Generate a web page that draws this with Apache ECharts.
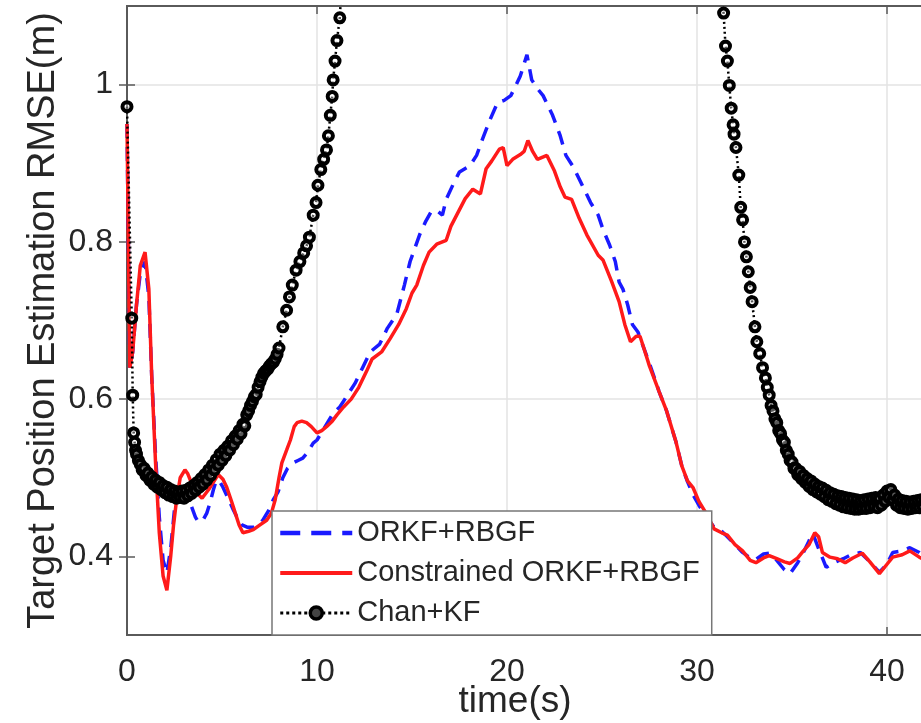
<!DOCTYPE html>
<html>
<head>
<meta charset="utf-8">
<script src="https://cdn.jsdelivr.net/npm/echarts@6.0.0/dist/echarts.min.js"></script>
<style>
  html, body { margin: 0; padding: 0; background: #fff; }
  #chart { width: 921px; height: 723px; }
</style>
</head>
<body>
<div id="chart"></div>
<script>
// time (s) and RMSE (m)
var orkfT = [0, 0.15, 0.3, 0.5, 0.7, 0.95, 1.15, 1.3, 1.5, 1.7, 1.9, 2.1, 2.3, 2.5, 2.75, 2.95, 3.2, 3.4, 3.6, 3.75, 4.0, 4.2, 4.37, 4.55, 4.7, 4.9, 5.05, 5.3, 5.6, 5.85, 6.05, 6.35, 6.65, 6.9, 7.15, 7.45, 7.7, 7.95, 8.2, 8.45, 8.75, 9.0, 9.25, 9.5, 9.8, 10.0, 10.3, 10.6, 10.85, 11.2, 11.6, 12.0, 12.4, 12.8, 13.3, 13.7, 14.2, 14.6, 14.9, 15.4, 15.7, 16.0, 16.3, 16.6, 16.8, 17.2, 17.5, 18.05, 18.4, 18.7, 19.1, 19.5, 19.85, 20.2, 20.45, 20.7, 21.05, 21.3, 21.6, 21.9, 22.4, 22.8, 23.1, 23.5, 23.8, 24.4, 24.8, 25.05, 25.4, 25.7, 25.9, 26.1, 26.35, 26.6, 26.9, 27.2, 27.5, 28.0, 28.4, 28.9, 29.2, 29.5, 29.8, 30.1, 30.5, 30.9, 31.3, 31.6, 32.0, 32.4, 32.8, 33.1, 33.5, 33.8, 34.2, 34.6, 34.9, 35.3, 35.6, 35.9, 36.1, 36.4, 36.8, 37.2, 37.7, 38.1, 38.6, 39.1, 39.6, 40.0, 40.3, 40.8, 41.2, 41.7, 42.0];
var orkfV = [0.95, 0.64, 0.66, 0.72, 0.76, 0.775, 0.73, 0.63, 0.53, 0.45, 0.395, 0.379, 0.41, 0.46, 0.49, 0.493, 0.48, 0.463, 0.45, 0.444, 0.446, 0.455, 0.468, 0.485, 0.497, 0.494, 0.488, 0.475, 0.459, 0.447, 0.44, 0.437, 0.437, 0.44, 0.446, 0.458, 0.472, 0.482, 0.5, 0.512, 0.519, 0.522, 0.525, 0.532, 0.544, 0.548, 0.56, 0.572, 0.582, 0.59, 0.605, 0.62, 0.64, 0.66, 0.67, 0.69, 0.708, 0.745, 0.775, 0.809, 0.825, 0.838, 0.84, 0.834, 0.854, 0.875, 0.889, 0.897, 0.91, 0.93, 0.955, 0.977, 0.98, 0.986, 0.998, 1.011, 1.038, 1.006, 0.995, 0.986, 0.961, 0.935, 0.91, 0.895, 0.88, 0.85, 0.834, 0.816, 0.796, 0.775, 0.749, 0.74, 0.72, 0.695, 0.685, 0.665, 0.645, 0.61, 0.585, 0.545, 0.515, 0.495, 0.478, 0.465, 0.45, 0.437, 0.432, 0.425, 0.415, 0.405, 0.398, 0.396, 0.403, 0.404, 0.395, 0.383, 0.378, 0.392, 0.405, 0.42, 0.429, 0.41, 0.386, 0.392, 0.397, 0.402, 0.405, 0.393, 0.38, 0.39, 0.405, 0.407, 0.411, 0.405, 0.4];

var consT = [0, 0.15, 0.3, 0.5, 0.7, 0.95, 1.15, 1.3, 1.5, 1.7, 1.9, 2.1, 2.3, 2.45, 2.6, 2.8, 3.05, 3.2, 3.4, 3.7, 3.95, 4.3, 4.8, 5.05, 5.25, 5.5, 5.7, 5.9, 6.1, 6.4, 6.65, 7.0, 7.35, 7.6, 7.8, 8.0, 8.15, 8.4, 8.6, 8.8, 8.95, 9.2, 9.45, 9.7, 10.0, 10.25, 10.5, 10.8, 11.05, 11.4, 11.8, 12.2, 12.6, 12.9, 13.4, 13.85, 14.3, 14.7, 15.0, 15.25, 15.6, 15.9, 16.3, 16.8, 17.05, 17.35, 17.8, 18.2, 18.6, 18.9, 19.2, 19.6, 19.8, 20.0, 20.3, 20.7, 20.9, 21.1, 21.35, 21.6, 22.1, 22.5, 22.8, 23.05, 23.4, 23.8, 24.2, 24.8, 25.05, 25.5, 25.9, 26.2, 26.5, 26.8, 27.0, 27.2, 27.5, 28.0, 28.4, 28.9, 29.2, 29.5, 29.8, 30.1, 30.5, 30.9, 31.3, 31.6, 32.0, 32.4, 32.8, 33.1, 33.5, 33.8, 34.2, 34.6, 34.9, 35.3, 35.6, 35.9, 36.2, 36.4, 36.6, 37.0, 37.4, 37.8, 38.2, 38.7, 39.1, 39.6, 40.0, 40.3, 40.8, 41.2, 41.7, 42.0];
var consV = [0.95, 0.64, 0.66, 0.72, 0.77, 0.787, 0.74, 0.63, 0.52, 0.43, 0.375, 0.357, 0.4, 0.44, 0.47, 0.5, 0.51, 0.505, 0.493, 0.48, 0.474, 0.485, 0.504, 0.498, 0.488, 0.47, 0.455, 0.44, 0.43, 0.432, 0.434, 0.44, 0.446, 0.455, 0.472, 0.5, 0.519, 0.535, 0.548, 0.565, 0.57, 0.572, 0.57, 0.565, 0.557, 0.56, 0.565, 0.572, 0.58, 0.59, 0.6, 0.615, 0.635, 0.651, 0.66, 0.677, 0.695, 0.715, 0.735, 0.745, 0.77, 0.787, 0.797, 0.802, 0.82, 0.834, 0.855, 0.867, 0.861, 0.893, 0.903, 0.918, 0.92, 0.897, 0.905, 0.911, 0.915, 0.929, 0.915, 0.905, 0.91, 0.89, 0.87, 0.857, 0.854, 0.83, 0.809, 0.783, 0.777, 0.75, 0.724, 0.695, 0.673, 0.68, 0.68, 0.665, 0.642, 0.61, 0.585, 0.545, 0.515, 0.496, 0.487, 0.47, 0.454, 0.435, 0.43, 0.427, 0.415, 0.407, 0.395, 0.392, 0.398, 0.401, 0.397, 0.393, 0.391, 0.398, 0.407, 0.415, 0.43, 0.425, 0.405, 0.399, 0.397, 0.392, 0.398, 0.404, 0.393, 0.378, 0.39, 0.399, 0.402, 0.407, 0.399, 0.395];

var chanT = [0, 0.25, 0.3, 0.35, 0.4, 0.45,
  0.5, 0.6, 0.7, 0.8, 0.9, 1.0, 1.1, 1.2, 1.3, 1.4, 1.5, 1.6, 1.7, 1.8, 1.9, 2.0, 2.1, 2.2, 2.3, 2.4, 2.5, 2.6, 2.7, 2.8, 2.9, 3.0,
  3.1, 3.2, 3.3, 3.4, 3.5, 3.6, 3.7, 3.8, 3.9, 4.0, 4.1, 4.2, 4.3, 4.4, 4.5, 4.6, 4.7, 4.8, 4.9, 5.0, 5.1, 5.2, 5.3, 5.4, 5.5,
  5.6, 5.7, 5.8, 5.9, 6.0, 6.1, 6.2, 6.3, 6.4, 6.5, 6.6, 6.7, 6.8, 6.9, 7.0, 7.1, 7.2, 7.3, 7.4, 7.5, 7.6, 7.7, 7.8, 7.9, 8.0,
  8.2, 8.4, 8.55, 8.7, 8.9, 9.1, 9.3, 9.45, 9.6, 9.8, 9.95, 10.05, 10.2, 10.35, 10.5, 10.6, 10.7, 10.8, 10.85, 10.95, 11.05, 11.2, 11.35,
  30.9, 31.4, 31.5, 31.6, 31.7, 31.8, 31.9, 31.95, 32.05, 32.2, 32.3, 32.4, 32.5, 32.6, 32.7, 32.8, 32.9, 33.05, 33.15, 33.3,
  33.45, 33.6, 33.7, 33.8, 33.9, 34.0, 34.1, 34.2, 34.3, 34.4, 34.5, 34.6, 34.7, 34.8, 34.9, 35.0, 35.1, 35.2, 35.3, 35.4, 35.5,
  35.6, 35.7, 35.8, 35.9, 36.0, 36.1, 36.2, 36.3, 36.4, 36.5, 36.6, 36.7, 36.8, 36.9, 37.0, 37.1, 37.2, 37.3, 37.4, 37.5, 37.6,
  37.7, 37.8, 37.9, 38.0, 38.1, 38.2, 38.3, 38.4, 38.5, 38.6, 38.7, 38.8, 38.9, 39.0, 39.1, 39.2, 39.3, 39.4, 39.5, 39.6, 39.7,
  39.8, 39.9, 40.0, 40.1, 40.2, 40.3, 40.4, 40.5, 40.6, 40.7, 40.8, 40.9, 41.0, 41.1, 41.2, 41.3, 41.4, 41.5, 41.6, 41.7, 41.8, 41.9, 42.0];
var chanV = [0.972, 0.703, 0.605, 0.557, 0.545, 0.535,
  0.53, 0.522, 0.517, 0.51, 0.512, 0.503, 0.506, 0.497, 0.501, 0.492, 0.497, 0.488, 0.494, 0.485, 0.49, 0.481, 0.488, 0.478, 0.485, 0.476, 0.483, 0.474, 0.482, 0.475, 0.483, 0.474,
  0.484, 0.477, 0.487, 0.48, 0.49, 0.484, 0.494, 0.488, 0.499, 0.492, 0.504, 0.497, 0.51, 0.503, 0.516, 0.51, 0.523, 0.516, 0.53, 0.522, 0.535, 0.528, 0.54, 0.535, 0.547,
  0.542, 0.553, 0.549, 0.56, 0.556, 0.568, 0.566, 0.58, 0.585, 0.592, 0.597, 0.603, 0.606, 0.615, 0.622, 0.628, 0.633, 0.636, 0.638, 0.642, 0.645, 0.647, 0.651, 0.657, 0.665,
  0.692, 0.713, 0.73, 0.745, 0.764, 0.775, 0.786, 0.795, 0.806, 0.834, 0.85, 0.872, 0.892, 0.905, 0.917, 0.935, 0.961, 0.985, 1.006, 1.03, 1.056, 1.085, 1.15,
  1.15, 1.091, 1.049, 1.03, 0.999, 0.97, 0.949, 0.937, 0.92, 0.885, 0.844, 0.828, 0.8, 0.781, 0.762, 0.742, 0.724, 0.692, 0.673, 0.658,
  0.64, 0.627, 0.615, 0.605, 0.592, 0.585, 0.575, 0.57, 0.56, 0.556, 0.548, 0.545, 0.535, 0.53, 0.522, 0.52, 0.512, 0.512, 0.504, 0.508, 0.499,
  0.503, 0.494, 0.499, 0.489, 0.496, 0.485, 0.492, 0.482, 0.489, 0.479, 0.487, 0.476, 0.484, 0.472, 0.481, 0.47, 0.479, 0.467, 0.477, 0.465, 0.476,
  0.463, 0.475, 0.462, 0.474, 0.461, 0.473, 0.46, 0.472, 0.46, 0.471, 0.461, 0.472, 0.461, 0.473, 0.462, 0.474, 0.463, 0.475, 0.462, 0.474, 0.465,
  0.478, 0.47, 0.483, 0.475, 0.485, 0.472, 0.478, 0.465, 0.473, 0.462, 0.471, 0.461, 0.47, 0.46, 0.469, 0.461, 0.47, 0.462, 0.471, 0.462, 0.472, 0.463, 0.471];

var seriesNames = ['ORKF+RBGF', 'Constrained ORKF+RBGF', 'Chan+KF'];
var xTicks = [0, 10, 20, 30, 40];
var yTicks = [0.4, 0.6, 0.8, 1];

function pairs(t, v) {
  return t.map(function (x, i) { return [x, v[i]]; });
}

var FONT = '"Liberation Sans", Arial, sans-serif';
var TXT = '#262626';
var AX = '#5a5a5a';
var BLUE = '#1a1aff';
var RED = '#ff1a1a';

var chart = echarts.init(document.getElementById('chart'));
chart.setOption({
  animation: false,
  backgroundColor: '#fff',
  textStyle: { fontFamily: FONT },
  grid: { left: 127, top: 6, width: 798, height: 629, outerBoundsMode: 'none', containLabel: false },
  legend: {
    orient: 'vertical',
    left: 272,
    top: 511,
    padding: [7, 12, 7, 6],
    itemWidth: 72,
    itemHeight: 15,
    itemGap: 10,
    backgroundColor: '#fff',
    borderColor: '#777',
    borderWidth: 1.5,
    borderRadius: 0,
    textStyle: { fontFamily: FONT, fontSize: 29, color: TXT, lineHeight: 30 },
    data: [
      { name: seriesNames[0], itemStyle: { opacity: 0 }, lineStyle: { width: 4.5, type: [20, 11], color: BLUE } },
      { name: seriesNames[1], itemStyle: { opacity: 0 }, lineStyle: { width: 4, color: RED } },
      { name: seriesNames[2], itemStyle: { color: '#444', borderColor: '#000', borderWidth: 3.5 }, lineStyle: { width: 3, type: [3, 3], color: '#000' } }
    ]
  },
  xAxis: [{
    type: 'value', min: 0, max: 42, interval: 10,
    name: 'time(s)', nameLocation: 'middle', nameGap: 48, nameMoveOverlap: false,
    nameTextStyle: { fontFamily: FONT, fontSize: 37, color: TXT, padding: [0, 22, 0, 0] },
    axisLine: { show: true, lineStyle: { color: AX, width: 2 } },
    axisTick: { show: true, inside: true, length: 8, lineStyle: { color: AX, width: 1.5 } },
    axisLabel: { fontFamily: FONT, fontSize: 32, color: TXT, margin: 21, customValues: xTicks },
    splitLine: { show: true, lineStyle: { color: '#e3e3e3', width: 1.5 } }
  }, {
    type: 'value', min: 0, max: 42, interval: 10, position: 'top',
    axisLine: { show: true, lineStyle: { color: AX, width: 2 } },
    axisTick: { show: true, inside: true, length: 8, lineStyle: { color: AX, width: 1.5 } },
    axisLabel: { show: false },
    splitLine: { show: false }
  }],
  yAxis: [{
    type: 'value', min: 0.3, max: 1.1, interval: 0.1,
    name: 'Target Position Estimation RMSE(m)', nameLocation: 'middle', nameGap: 64, nameMoveOverlap: false,
    nameTextStyle: { fontFamily: FONT, fontSize: 38, color: TXT },
    axisLine: { show: true, lineStyle: { color: AX, width: 2 } },
    axisTick: { show: true, inside: true, length: 8, customValues: yTicks, lineStyle: { color: AX, width: 1.5 } },
    axisLabel: { fontFamily: FONT, fontSize: 32, color: TXT, margin: 14, customValues: yTicks },
    splitLine: { show: true, lineStyle: { color: ['rgba(0,0,0,0)', '#e3e3e3'], width: 1.5 } }
  }, {
    type: 'value', min: 0.3, max: 1.1, interval: 0.1, position: 'right',
    axisLine: { show: true, lineStyle: { color: AX, width: 2 } },
    axisTick: { show: true, inside: true, length: 8, customValues: yTicks, lineStyle: { color: AX, width: 1.5 } },
    axisLabel: { show: false },
    splitLine: { show: false }
  }],
  series: [{
    name: seriesNames[0], type: 'line', symbol: 'none', z: 2,
    lineStyle: { color: BLUE, width: 3.5, type: [14, 9] },
    itemStyle: { color: BLUE },
    data: pairs(orkfT, orkfV)
  }, {
    name: seriesNames[1], type: 'line', symbol: 'none', z: 3,
    lineStyle: { color: RED, width: 3.5 },
    itemStyle: { color: RED },
    data: pairs(consT, consV)
  }, {
    name: seriesNames[2], type: 'line', symbol: 'circle', symbolSize: 9, z: 4,
    lineStyle: { color: '#000', width: 2.5, type: [2, 3] },
    itemStyle: { color: 'rgba(255,255,255,0.35)', borderColor: '#000', borderWidth: 4 },
    data: pairs(chanT, chanV)
  }]
});
</script>
</body>
</html>
